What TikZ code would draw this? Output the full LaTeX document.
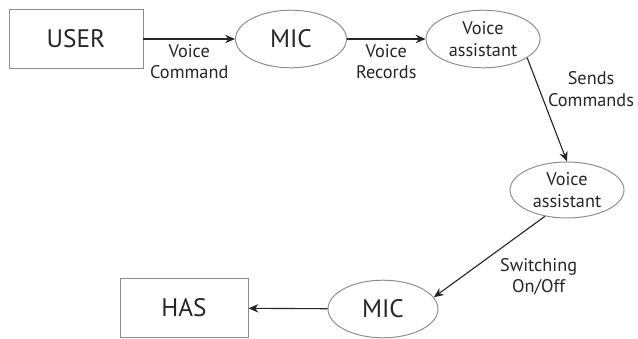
\documentclass[tikz,border=0pt]{standalone}
\usepackage{fontspec}
\setmainfont{PT Sans}
\usepackage{tikz}
\usetikzlibrary{positioning}
\usetikzlibrary{shapes.geometric}
\usetikzlibrary{arrows.meta}
\definecolor{txtgray}{HTML}{262626}
\definecolor{edgegray}{HTML}{8C8C8C}
\tikzset{
  blockbox/.style={draw=edgegray, line width=0.7pt, rectangle, minimum width=#1, minimum height=1.47cm, text=txtgray, font=\fontsize{18}{21}\selectfont},
  ovalbox/.style={draw=edgegray, line width=0.7pt, ellipse, inner sep=0pt, minimum width=#1, minimum height=1.44cm, text=txtgray, align=center},
  flow/.style={draw=black!85, line width=0.8pt, -{Stealth[length=7pt,width=6pt]}},
  flowlbl/.style={text=txtgray, align=center, font=\fontsize{13}{15.5}\selectfont}
}

\begin{document}
\begin{tikzpicture}
\useasboundingbox (0,0) rectangle (15.95,-8.45);
\node[blockbox=3.35cm] (user) at (1.9,-0.975) {USER};
\node[ovalbox=2.775cm, font=\fontsize{18}{21}\selectfont] (mic1) at (7.275,-0.975) {MIC};
\node[ovalbox=2.85cm, font=\fontsize{13}{15.5}\selectfont] (va1) at (12.075,-0.975) {Voice\\assistant};
\node[ovalbox=2.85cm, minimum height=1.4cm, font=\fontsize{13}{15.5}\selectfont] (va2) at (14.175,-4.75) {Voice\\assistant};
\node[ovalbox=2.75cm, font=\fontsize{18}{21}\selectfont] (mic2) at (9.575,-7.725) {MIC};
\node[blockbox=3.2cm] (has) at (4.6,-7.7) {HAS};

\draw[flow] (user) -- node[flowlbl, below] {Voice\\Command} (mic1);
\draw[flow] (mic1) -- node[flowlbl, below] {Voice\\Records} (va1);
\draw[flow] (va1.-23) -- node[flowlbl, pos=0.3, right, inner sep=2pt, xshift=4pt] {Sends\\Commands} (va2.north);
\draw[flow] (va2.-130) -- node[flowlbl, pos=0.45, below right] {Switching\\On/Off} (mic2.13);
\draw[flow] (mic2) -- (has);
\end{tikzpicture}
\end{document}
